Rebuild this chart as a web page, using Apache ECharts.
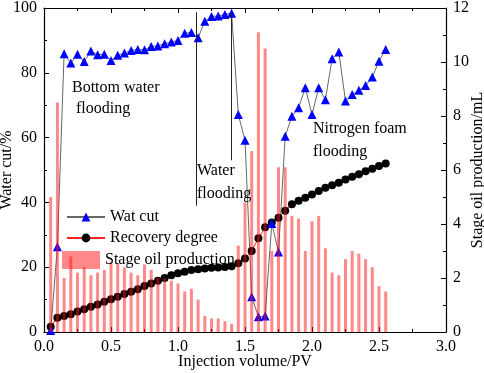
<!DOCTYPE html>
<html>
<head>
<meta charset="utf-8">
<script src="https://cdn.jsdelivr.net/npm/echarts/dist/echarts.min.js"></script>
<style>
html, body { margin: 0; padding: 0; background: #fff; }
#main { width: 484px; height: 373px; }
</style>
</head>
<body>
<div id="main"></div>
<script>
var chart = echarts.init(document.getElementById('main'));
var font = '"Liberation Serif", "Times New Roman", serif';

// injection volume (PV) for each measurement
var pv = [0.05, 0.10, 0.15, 0.20, 0.25, 0.30, 0.35, 0.40, 0.45, 0.50,
          0.55, 0.60, 0.65, 0.70, 0.75, 0.80, 0.85, 0.90, 0.95, 1.00,
          1.05, 1.10, 1.15, 1.20, 1.25, 1.30, 1.35, 1.40, 1.45, 1.50,
          1.55, 1.60, 1.65, 1.70, 1.75, 1.80, 1.85, 1.90, 1.95, 2.00,
          2.05, 2.10, 2.15, 2.20, 2.25, 2.30, 2.35, 2.40, 2.45, 2.50, 2.55];
// water cut, %
var watCut = [0.5, 26.3, 85.9, 83.0, 85.7, 83.5, 86.7, 85.6, 85.7, 83.8,
              85.4, 86.1, 86.9, 87.2, 87.1, 88.1, 88.3, 89.0, 89.5, 90.0,
              92.2, 92.4, 90.8, 95.9, 97.4, 97.5, 98.0, 98.4, 67.1, 59.2,
              10.9, 4.7, 4.9, 33.5, 24.7, 60.4, 66.6, 69.2, 75.4, 67.1,
              75.4, 71.7, 84.3, 86.4, 71.3, 73.3, 74.6, 76.1, 78.7, 83.6, 87.2];
// recovery degree, %
var recovery = [1.6, 4.4, 4.9, 5.5, 6.3, 7.0, 7.8, 8.5, 9.3, 10.1,
                10.9, 11.7, 12.4, 13.2, 14.2, 15.0, 15.8, 16.7, 17.5, 18.1,
                18.6, 19.1, 19.4, 19.6, 19.8, 19.9, 20.1, 20.3, 21.2, 22.7,
                25.0, 28.9, 32.3, 33.8, 35.3, 37.4, 39.4, 40.5, 41.4, 42.4,
                43.5, 44.5, 45.3, 46.1, 47.1, 47.9, 48.7, 49.6, 50.4, 51.2, 52.0];
// stage oil production, mL
var stageOil = [5.0, 8.5, 2.0, 2.8, 2.2, 2.4, 2.1, 2.2, 2.3, 2.6,
                2.55, 2.4, 2.2, 2.1, 2.5, 2.3, 2.0, 2.0, 1.9, 1.8,
                1.5, 1.6, 1.2, 0.6, 0.5, 0.5, 0.4, 0.3, 3.2, 4.8,
                6.7, 11.1, 10.5, 3.0, 6.1, 6.1, 4.3, 4.2, 3.0, 4.1,
                4.3, 3.1, 2.2, 2.1, 2.7, 3.0, 2.9, 2.7, 2.4, 1.7, 1.5];

function pairs(ys) {
    return pv.map(function (x, i) { return [x, ys[i]]; });
}

var txt = { fontFamily: font, fontSize: 16, color: '#000' };
var axisLine = { show: true, onZero: false, lineStyle: { color: '#000', width: 1.2 } };
var tick = { inside: true, length: 5, lineStyle: { color: '#000', width: 1 } };
var minor = { show: true, splitNumber: 2, length: 3, lineStyle: { color: '#000', width: 1 } };

function note(text, x, y) {
    return {
        type: 'text', x: x, y: y, z: 10,
        style: { text: text, font: '16px ' + font, fill: '#000', verticalAlign: 'middle' }
    };
}

var option = {
    animation: false,
    grid: { left: 44, right: 38, top: 8, bottom: 41, containLabel: false, outerBoundsMode: 'none' },
    legend: [
        { data: ['Wat cut'], left: 61, top: 204, itemWidth: 38, itemHeight: 11, textStyle: txt },
        { data: ['Recovery degree'], left: 61, top: 225, itemWidth: 38, itemHeight: 11, textStyle: txt },
        { data: [{ name: 'Stage oil production', icon: 'rect' }], left: 57, top: 246,
          itemWidth: 38, itemHeight: 18, textStyle: txt }
    ],
    xAxis: [{
        type: 'value', min: 0, max: 3, interval: 0.5, position: 'bottom',
        name: 'Injection volume/PV', nameLocation: 'middle', nameGap: 22, nameMoveOverlap: false,
        nameTextStyle: txt,
        axisLine: axisLine, axisTick: tick, minorTick: minor, splitLine: { show: false },
        axisLabel: {
            margin: 7, fontFamily: font, fontSize: 16, color: '#000',
            formatter: function (v) { return v.toFixed(1); }
        }
    }, {
        type: 'value', min: 0, max: 3, interval: 0.5, position: 'top',
        axisLine: axisLine, axisTick: tick, minorTick: minor, splitLine: { show: false },
        axisLabel: { show: false }
    }],
    yAxis: [{
        type: 'value', min: 0, max: 100, interval: 20, position: 'left',
        name: 'Water cut/%', nameLocation: 'middle', nameGap: 29, nameRotate: 90, nameMoveOverlap: false,
        nameTextStyle: txt,
        axisLine: axisLine, axisTick: tick, minorTick: minor, splitLine: { show: false },
        axisLabel: { margin: 7, fontFamily: font, fontSize: 16, color: '#000' }
    }, {
        type: 'value', min: 0, max: 12, interval: 2, position: 'right',
        name: 'Stage oil production/mL', nameLocation: 'middle', nameGap: 24, nameRotate: 90,
        nameMoveOverlap: false, nameTextStyle: txt,
        axisLine: axisLine, axisTick: tick, minorTick: minor, splitLine: { show: false },
        axisLabel: { margin: 7, fontFamily: font, fontSize: 16, color: '#000' }
    }],
    series: [{
        name: 'Recovery degree',
        type: 'line',
        data: pairs(recovery),
        symbol: 'circle',
        symbolSize: 8,
        itemStyle: { color: '#000' },
        lineStyle: { color: '#ff2020', width: 1 },
        z: 2
    }, {
        name: 'Wat cut',
        type: 'line',
        data: pairs(watCut),
        symbol: 'triangle',
        symbolSize: 9,
        itemStyle: { color: '#0000ff' },
        lineStyle: { color: '#666', width: 1 },
        z: 2,
        markLine: {
            silent: true, symbol: 'none', label: { show: false },
            lineStyle: { color: '#222', width: 1, type: 'solid' },
            data: [
                [{ coord: [1.135, 98.7] }, { coord: [1.135, 39] }],
                [{ coord: [1.40, 98.4] }, { coord: [1.40, 53] }]
            ]
        }
    }, {
        name: 'Stage oil production',
        type: 'bar',
        yAxisIndex: 1,
        data: pairs(stageOil),
        barWidth: 3,
        itemStyle: { color: 'rgba(255,20,20,0.5)' },
        z: 3
    }],
    graphic: [
        note('Bottom water', 72, 88),
        note('flooding', 76, 109),
        note('Water', 197, 171),
        note('flooding', 197, 194),
        note('Nitrogen foam', 313, 129),
        note('flooding', 313, 152)
    ]
};
chart.setOption(option);
</script>
</body>
</html>
